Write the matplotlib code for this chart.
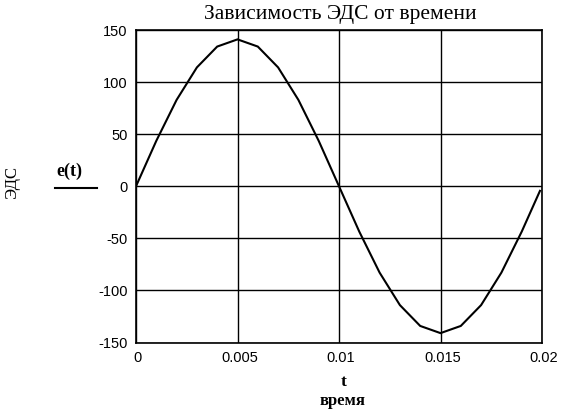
import matplotlib
matplotlib.use('Agg')
import matplotlib.pyplot as plt
from matplotlib.transforms import ScaledTranslation

# time samples (s) and EMF values
t = [0.0, 0.001, 0.002, 0.003, 0.004, 0.005, 0.006, 0.007, 0.008, 0.009,
     0.010, 0.011, 0.012, 0.013, 0.014, 0.015, 0.016, 0.017, 0.018, 0.019, 0.0199]
e = [0.0, 43.6, 82.9, 114.1, 134.1, 141.0, 134.1, 114.1, 82.9, 43.6,
     0.0, -43.6, -82.9, -114.1, -134.1, -141.0, -134.1, -114.1, -82.9, -43.6, -4.4]

x_ticks = [0, 0.005, 0.01, 0.015, 0.02]
x_labels = ['0', '0.005', '0.01', '0.015', '0.02']
y_ticks = [-150, -100, -50, 0, 50, 100, 150]
y_labels = ['-150', '-100', '-50', '0', '50', '100', '150']

serif = 'Liberation Serif'
tick_font = 'Liberation Sans'

fig = plt.figure(figsize=(5.71, 4.15), dpi=100)
ax = fig.add_axes([136 / 571, 1 - 342.5 / 415, 406 / 571, 312.5 / 415])

ax.plot(t, e, color='black', lw=1.5, solid_joinstyle='miter')
ax.set_xlim(0, 0.02)
ax.set_ylim(-150, 150)

ax.set_xticks(x_ticks)
ax.set_xticklabels(x_labels, fontfamily=tick_font, fontsize=10.5)
ax.set_yticks(y_ticks)
ax.set_yticklabels(y_labels, fontfamily=tick_font, fontsize=10.5)
ax.tick_params(length=0, pad=6)
ax.grid(True, color='black', lw=1)
for s in ax.spines.values():
    s.set_linewidth(1.2)

# Mathcad puts the x labels a little to the right of the grid lines
shift = ScaledTranslation(2 / 100, 0, fig.dpi_scale_trans)
for lab in ax.get_xticklabels():
    lab.set_transform(lab.get_transform() + shift)

fig.text(340 / 571, 1 - 14 / 415, 'Зависимость ЭДС от времени',
         fontfamily=serif, fontsize=15.5, ha='center', va='center')
fig.text(12 / 571, 1 - 182 / 415, 'ЭДС', fontfamily=serif, fontsize=12,
         rotation=90, ha='center', va='center')
fig.text(69 / 571, 1 - 171 / 415, 'e(t)', fontfamily=serif, fontsize=13,
         fontweight='bold', ha='center', va='center')
fig.add_artist(plt.Line2D([55 / 571, 97 / 571], [1 - 188 / 415, 1 - 188 / 415],
                          color='black', lw=1.5))
fig.text(344 / 571, 1 - 382 / 415, 't', fontfamily=serif, fontsize=12.5,
         fontweight='bold', ha='center', va='center')
fig.text(343 / 571, 1 - 401 / 415, 'время', fontfamily=serif, fontsize=12,
         fontweight='bold', ha='center', va='center')

fig.savefig('out.png', dpi=100)
